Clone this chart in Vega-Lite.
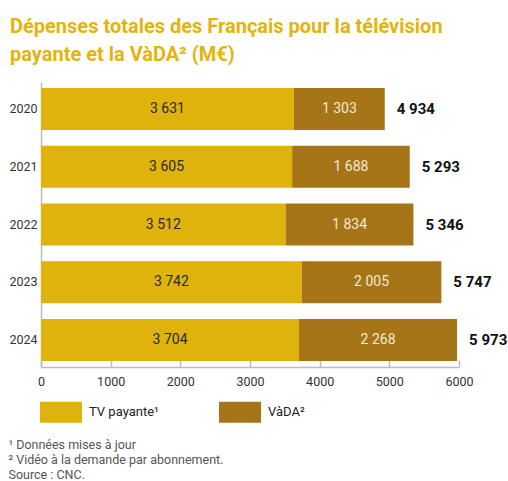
{
  "$schema": "https://vega.github.io/schema/vega-lite/v6.json",
  "width": 418,
  "height": 285,
  "autosize": {"type": "none"},
  "padding": {"left": 41, "top": 82, "right": 49, "bottom": 114},
  "background": "white",
  "title": {
    "text": ["Dépenses totales des Français pour la télévision", "payante et la VàDA² (M€)"],
    "anchor": "start",
    "frame": "group",
    "dx": -31,
    "offset": 17,
    "font": "Roboto",
    "fontSize": 20,
    "fontWeight": "bold",
    "color": "#E3B40C",
    "lineHeight": 28
  },
  "datasets": {
    "parts": [
      {"year": "2020", "serie": "TV payante¹", "value": 3631},
      {"year": "2020", "serie": "VàDA²", "value": 1303},
      {"year": "2021", "serie": "TV payante¹", "value": 3605},
      {"year": "2021", "serie": "VàDA²", "value": 1688},
      {"year": "2022", "serie": "TV payante¹", "value": 3512},
      {"year": "2022", "serie": "VàDA²", "value": 1834},
      {"year": "2023", "serie": "TV payante¹", "value": 3742},
      {"year": "2023", "serie": "VàDA²", "value": 2005},
      {"year": "2024", "serie": "TV payante¹", "value": 3704},
      {"year": "2024", "serie": "VàDA²", "value": 2268}
    ],
    "totals": [
      {"year": "2020", "total": 4934},
      {"year": "2021", "total": 5293},
      {"year": "2022", "total": 5346},
      {"year": "2023", "total": 5747},
      {"year": "2024", "total": 5973}
    ]
  },
  "data": {"name": "parts"},
  "encoding": {
    "y": {
      "field": "year",
      "type": "nominal",
      "scale": {"paddingInner": 0.273, "paddingOuter": 0.104},
      "axis": {
        "title": null,
        "ticks": false,
        "domain": true,
        "domainColor": "#bdbdbd",
        "domainWidth": 1.5,
        "labelPadding": 4,
        "labelFont": "Roboto",
        "labelFontSize": 12.5,
        "labelColor": "#333333"
      }
    }
  },
  "layer": [
    {
      "mark": {"type": "bar", "stroke": null},
      "encoding": {
        "x": {
          "field": "value",
          "type": "quantitative",
          "stack": "zero",
          "scale": {"domain": [0, 6000], "nice": false},
          "axis": {
            "values": [0, 1000, 2000, 3000, 4000, 5000, 6000],
            "format": "d",
            "grid": false,
            "labelFlush": false,
            "domainColor": "#bdbdbd",
            "domainWidth": 1.5,
            "tickColor": "#bdbdbd",
            "tickWidth": 1.5,
            "tickSize": -7,
            "labelPadding": 15,
            "labelFont": "Roboto",
            "labelFontSize": 12.5,
            "labelColor": "#333333",
            "title": ["¹ Données mises à jour", "² Vidéo à la demande par abonnement.", "Source : CNC."],
            "titleFont": "Roboto",
            "titleFontSize": 12.5,
            "titleFontWeight": "normal",
            "titleColor": "#555555",
            "titleAnchor": "start",
            "titleAlign": "left",
            "titleBaseline": "alphabetic",
            "titleX": -33,
            "titleY": 81,
            "titleLineHeight": 15
          }
        },
        "color": {
          "field": "serie",
          "type": "nominal",
          "scale": {"domain": ["TV payante¹", "VàDA²"], "range": ["#DFB30B", "#A67517"]},
          "legend": {
            "title": null,
            "orient": "none",
            "legendX": -1,
            "legendY": 309,
            "direction": "horizontal",
            "padding": 0,
            "symbolType": "M-1,-0.5H1V0.5H-1Z",
            "symbolSize": 1764,
            "symbolStrokeWidth": 0,
            "symbolOpacity": 1,
            "labelOffset": 7,
            "labelFont": "Roboto",
            "labelFontSize": 13,
            "labelColor": "#222222",
            "columnPadding": 60
          }
        }
      }
    },
    {
      "transform": [
        {"stack": "value", "groupby": ["year"], "sort": [{"field": "serie", "order": "ascending"}], "as": ["x0", "x1"]},
        {"calculate": "(datum.x0 + datum.x1) / 2", "as": "mid"}
      ],
      "mark": {"type": "text", "font": "Roboto", "fontSize": 14, "align": "center", "baseline": "middle"},
      "encoding": {
        "x": {"field": "mid", "type": "quantitative"},
        "text": {"field": "value", "type": "quantitative", "format": ",d"},
        "color": {
          "condition": {"test": "datum.serie === 'VàDA²'", "value": "#F5EAD2"},
          "value": "#2A2A2A"
        }
      }
    },
    {
      "data": {"name": "totals"},
      "mark": {"type": "text", "font": "Roboto", "fontSize": 15, "fontWeight": "bold", "align": "left", "baseline": "middle", "dx": 12, "color": "#111111"},
      "encoding": {
        "x": {"field": "total", "type": "quantitative"},
        "text": {"field": "total", "type": "quantitative", "format": ",d"}
      }
    }
  ],
  "config": {
    "view": {"stroke": null},
    "locale": {"number": {"decimal": ",", "thousands": " ", "grouping": [3], "currency": ["", " €"]}}
  }
}
